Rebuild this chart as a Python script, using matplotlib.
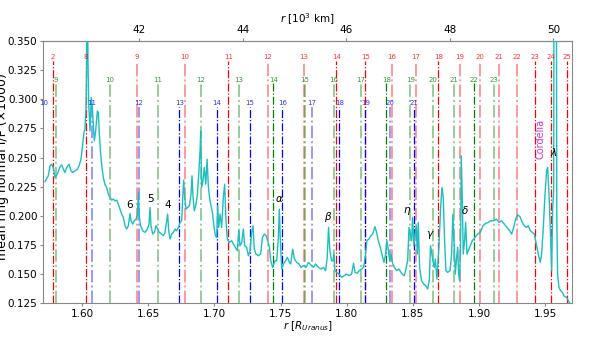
import numpy as np
import matplotlib.pyplot as plt

R_URANUS = 25559.0  # km

# Mean ring profile (r in Uranus radii, I/F)
r_prof = [1.5720, 1.5745, 1.5758, 1.5771, 1.5783, 1.5796, 1.5813, 1.5834, 1.5846, 1.5859,
          1.5871, 1.5884, 1.5902, 1.5917, 1.5929, 1.5947, 1.5965, 1.5980, 1.5992, 1.6005,
          1.6015, 1.6022, 1.6030, 1.6034, 1.6036, 1.6042, 1.6045, 1.6050, 1.6060, 1.6070,
          1.6078, 1.6085, 1.6093, 1.6103, 1.6116, 1.6123, 1.6131, 1.6141, 1.6151, 1.6161,
          1.6174, 1.6186, 1.6199, 1.6211, 1.6224, 1.6237, 1.6249, 1.6262, 1.6274, 1.6287,
          1.6300, 1.6312, 1.6325, 1.6337, 1.6350, 1.6363, 1.6370, 1.6383, 1.6395, 1.6408,
          1.6418, 1.6426, 1.6433, 1.6443, 1.6458, 1.6476, 1.6494, 1.6506, 1.6514, 1.6521,
          1.6534, 1.6547, 1.6559, 1.6572, 1.6584, 1.6602, 1.6615, 1.6627, 1.6640, 1.6647,
          1.6655, 1.6665, 1.6678, 1.6690, 1.6703, 1.6715, 1.6728, 1.6741, 1.6753, 1.6761,
          1.6768, 1.6776, 1.6786, 1.6798, 1.6811, 1.6824, 1.6831, 1.6839, 1.6849, 1.6861,
          1.6872, 1.6882, 1.6892, 1.6897, 1.6904, 1.6914, 1.6924, 1.6935, 1.6945, 1.6955,
          1.6967, 1.6980, 1.6987, 1.6998, 1.7008, 1.7018, 1.7025, 1.7033, 1.7043, 1.7055,
          1.7068, 1.7078, 1.7088, 1.7098, 1.7113, 1.7131, 1.7144, 1.7159, 1.7174, 1.7184,
          1.7194, 1.7207, 1.7219, 1.7229, 1.7244, 1.7257, 1.7270, 1.7282, 1.7292, 1.7302,
          1.7315, 1.7333, 1.7350, 1.7363, 1.7378, 1.7391, 1.7403, 1.7416, 1.7426, 1.7441,
          1.7459, 1.7471, 1.7484, 1.7491, 1.7499, 1.7509, 1.7522, 1.7539, 1.7552, 1.7567,
          1.7577, 1.7592, 1.7605, 1.7622, 1.7640, 1.7655, 1.7673, 1.7693, 1.7711,
          1.7734, 1.7748, 1.7765, 1.7785, 1.7806, 1.7823, 1.7841, 1.7853, 1.7863, 1.7873,
          1.7886, 1.7896, 1.7904, 1.7911, 1.7924, 1.7942, 1.7962, 1.7982, 1.8000, 1.8017,
          1.8037, 1.8052, 1.8063, 1.8078, 1.8095, 1.8113, 1.8128, 1.8143, 1.8153, 1.8168,
          1.8183, 1.8196, 1.8214, 1.8226, 1.8239, 1.8254, 1.8269, 1.8282, 1.8294, 1.8304,
          1.8314, 1.8325, 1.8335, 1.8345, 1.8360, 1.8377, 1.8395, 1.8410, 1.8420, 1.8435,
          1.8445, 1.8461, 1.8471, 1.8481, 1.8491, 1.8498, 1.8508, 1.8516, 1.8526, 1.8534,
          1.8541, 1.8551, 1.8566, 1.8581, 1.8597, 1.8612, 1.8624, 1.8634, 1.8642, 1.8652,
          1.8662, 1.8670, 1.8682, 1.8697, 1.8710, 1.8720, 1.8730, 1.8740, 1.8750, 1.8763,
          1.8781, 1.8793, 1.8803, 1.8811, 1.8821, 1.8831, 1.8839, 1.8846, 1.8854, 1.8861,
          1.8866, 1.8874, 1.8881, 1.8891, 1.8899, 1.8909, 1.8919, 1.8934, 1.8949, 1.8970,
          1.8990, 1.9010, 1.9030, 1.9050, 1.9070, 1.9090, 1.9111, 1.9131, 1.9151, 1.9171,
          1.9191, 1.9211, 1.9232, 1.9247, 1.9262, 1.9277, 1.9292, 1.9310, 1.9327, 1.9342,
          1.9357, 1.9373, 1.9388, 1.9403, 1.9418, 1.9433, 1.9448, 1.9463, 1.9473, 1.9486,
          1.9499, 1.9511, 1.9519, 1.9529, 1.9539, 1.9549, 1.9557, 1.9564, 1.9567, 1.9585,
          1.9588, 1.9594, 1.9604, 1.9617, 1.9630, 1.9640, 1.9650, 1.9662, 1.9675, 1.9690]
if_prof = [0.2295, 0.2344, 0.2429, 0.2443, 0.2415, 0.2329, 0.2358, 0.2421, 0.2438, 0.2401,
           0.2372, 0.2415, 0.2443, 0.2386, 0.2372, 0.2386, 0.2401, 0.2438, 0.2486, 0.2615,
           0.2715, 0.2743, 0.2929, 0.3214, 0.3700, 0.3700, 0.3329, 0.2986, 0.2729, 0.3015,
           0.2929, 0.2786, 0.2643, 0.2729, 0.2900, 0.2886, 0.2700, 0.2529, 0.2415, 0.2329,
           0.2266, 0.2244, 0.2186, 0.2158, 0.2135, 0.2144, 0.2129, 0.2135, 0.2101, 0.2058,
           0.2015, 0.1987, 0.1915, 0.1887, 0.1915, 0.2021, 0.1958, 0.1929, 0.1958, 0.1972,
           0.2015, 0.2201, 0.1987, 0.1915, 0.1872, 0.1858, 0.1887, 0.1929, 0.2072, 0.1915,
           0.1844, 0.1858, 0.1915, 0.1887, 0.1858, 0.1844, 0.1830, 0.1858, 0.1958, 0.2015,
           0.1872, 0.1801, 0.1844, 0.1858, 0.1887, 0.1872, 0.1901, 0.1944, 0.1958, 0.2158,
           0.2306, 0.2158, 0.2058, 0.2072, 0.2087, 0.2186, 0.2344, 0.2158, 0.2044, 0.2101,
           0.2186, 0.2358, 0.2558, 0.2729, 0.2244, 0.2301, 0.2415, 0.2272, 0.2486, 0.2244,
           0.2129, 0.2058, 0.2015, 0.1901, 0.1830, 0.1815, 0.2087, 0.1901, 0.2015, 0.1901,
           0.2158, 0.2272, 0.1958, 0.1801, 0.1772, 0.1787, 0.1758, 0.1730, 0.1701, 0.1872,
           0.1744, 0.1772, 0.1887, 0.1744, 0.1730, 0.1658, 0.1701, 0.1858, 0.1915, 0.1715,
           0.1672, 0.1658, 0.1672, 0.1815, 0.1844, 0.1830, 0.1787, 0.1730, 0.1615, 0.1558,
           0.1615, 0.1615, 0.1815, 0.2058, 0.1787, 0.1544, 0.1587, 0.1615, 0.1644, 0.1601,
           0.1587, 0.1715, 0.1630, 0.1601, 0.1587, 0.1558, 0.1573, 0.1558, 0.1601,
           0.1573, 0.1558, 0.1587, 0.1558, 0.1544, 0.1558, 0.1530, 0.1644, 0.1901, 0.1701,
           0.1615, 0.1615, 0.1672, 0.1530, 0.1515, 0.1501, 0.1473, 0.1487, 0.1501, 0.1487,
           0.1501, 0.1593, 0.1515, 0.1507, 0.1530, 0.1544, 0.1558, 0.1672, 0.1787, 0.1801,
           0.1830, 0.1844, 0.1907, 0.1858, 0.1787, 0.1730, 0.1658, 0.1601, 0.1672, 0.1787,
           0.1715, 0.1615, 0.1672, 0.1601, 0.1558, 0.1530, 0.1544, 0.1515, 0.1501, 0.1487,
           0.1530, 0.1615, 0.1901, 0.1844, 0.1787, 0.1987, 0.1744, 0.1844, 0.1915, 0.1672,
           0.1944, 0.1558, 0.1444, 0.1416, 0.1401, 0.1373, 0.1444, 0.1744, 0.1687, 0.1615,
           0.1558, 0.1630, 0.1458, 0.1730, 0.2072, 0.2244, 0.2158, 0.1787, 0.1530, 0.1515,
           0.1530, 0.1672, 0.2015, 0.1787, 0.1501, 0.1644, 0.1730, 0.1501, 0.1444, 0.1787,
           0.2515, 0.2129, 0.1672, 0.1787, 0.1944, 0.1672, 0.1701, 0.1744, 0.1787, 0.1815,
           0.1844, 0.1858, 0.1915, 0.1935, 0.1944, 0.1958, 0.1958, 0.1972, 0.1944, 0.1958,
           0.1929, 0.1901, 0.1872, 0.1844, 0.1901, 0.1972, 0.2009, 0.1992, 0.1944, 0.1915,
           0.1901, 0.1915, 0.1872, 0.1858, 0.1844, 0.1758, 0.1672, 0.1601, 0.1672, 0.1901,
           0.2186, 0.2386, 0.2415, 0.2186, 0.1901, 0.1530, 0.2072, 0.2200, 0.4000, 0.4000,
           0.2000, 0.1501, 0.1387, 0.1358, 0.1344, 0.1316, 0.1307, 0.1301, 0.1273, 0.1244]

# Resonance locations (r in Uranus radii) and their labels
red_res = [1.5782, 1.6027, 1.6415, 1.6776, 1.7105, 1.7405, 1.7677, 1.7921, 1.8141, 1.8340,
           1.8522, 1.8692, 1.8856, 1.9008, 1.9151, 1.9289, 1.9421, 1.9546, 1.9665]
red_lab = [2, 8, 9, 10, 11, 12, 13, 14, 15, 16, 17, 18, 19, 20, 21, 22, 23, 24, 25]
green_res = [1.5800, 1.6209, 1.6574, 1.6896, 1.7186, 1.7445, 1.7683, 1.7902, 1.8106, 1.8299,
             1.8481, 1.8650, 1.8809, 1.8964, 1.9113]
green_lab = list(range(9, 24))
blue_res = [1.5708, 1.6073, 1.6428, 1.6735, 1.7017, 1.7269, 1.7513, 1.7738, 1.7944, 1.8141,
            1.8325, 1.8509]
blue_lab = list(range(10, 22))

# faint (doubled) resonance lines
red_faint = {9, 10, 12, 13, 16, 17, 19, 20, 21, 22}
green_faint = {9, 10, 11, 12, 13, 15, 16, 17, 19, 20, 21, 23}
blue_faint = {10, 11, 12, 17, 20}

ring_names = ['6', '5', '4', r'$\alpha$', r'$\beta$', r'$\eta$', r'$\gamma$', r'$\delta$', r'$\lambda$']
ring_r = [1.6362, 1.6518, 1.6647, 1.7491, 1.7861, 1.8454, 1.8630, 1.8892, 1.9567]
ring_y = [0.2091, 0.2142, 0.2091, 0.2142, 0.1991, 0.2040, 0.1835, 0.2048, 0.2546]

cordelia_r = 49751.0 / R_URANUS

fig = plt.figure(figsize=(5.98, 3.42), dpi=100)
ax = fig.add_axes([0.0719, 0.1132, 0.8851, 0.7668])

ax.plot(r_prof, if_prof, color='#1bbfbf', lw=1.0, zorder=3)


def draw_res(xs, labs, faint, color, ytop, ylab):
    for x, n in zip(xs, labs):
        if n in faint:
            ax.vlines(x, 0.125, ytop, colors=color, linestyles='-.', lw=1.4, alpha=0.4, zorder=2)
        else:
            ax.vlines(x, 0.125, ytop, colors=color, linestyles='-.', lw=0.9, zorder=2)
        ax.text(x, ylab, str(n), color=color, fontsize=5, ha='center', va='center', alpha=0.8)


draw_res(red_res, red_lab, red_faint, 'r', 0.3330, 0.3364)
draw_res(green_res, green_lab, green_faint, 'g', 0.3140, 0.3165)
draw_res(blue_res, blue_lab, blue_faint, 'b', 0.2930, 0.2966)

for name, x, y in zip(ring_names, ring_r, ring_y):
    ax.text(x, y, name, fontsize=7.5, ha='center', va='center')

ax.text(cordelia_r, 0.2663, 'Cordelia', color='m', fontsize=7, rotation=90,
        ha='center', va='center', alpha=0.8)

ax.set_xlim(1.5705, 1.9705)
ax.set_ylim(0.125, 0.350)
ax.set_yticks(np.arange(0.125, 0.351, 0.025))
ax.set_yticklabels(['%.3f' % v for v in np.arange(0.125, 0.351, 0.025)])
ax.set_xticks(np.arange(1.60, 1.951, 0.05))
ax.set_xticklabels(['%.2f' % v for v in np.arange(1.60, 1.951, 0.05)])
ax.tick_params(labelsize=7.5, color='#888888', length=2.5, pad=1.5)
for s in ax.spines.values():
    s.set_color('#888888')

ax.set_xlabel(r'$r$ [$R_{Uranus}$]', fontsize=7.5, labelpad=0)
ax.set_ylabel('mean ring normal I/F (×1000)', fontsize=9)
ax.yaxis.set_label_coords(-0.064, 0.52)

top = ax.secondary_xaxis('top', functions=(lambda r: r * R_URANUS / 1000.0,
                                           lambda k: k * 1000.0 / R_URANUS))
top.set_xticks([42, 44, 46, 48, 50])
top.tick_params(labelsize=7.5, color='#888888', length=2.5, pad=1.5)
top.spines['top'].set_color('#888888')
top.set_xlabel(r'$r$ [10$^3$ km]', fontsize=7.5, labelpad=1.5)

fig.savefig('out.png', dpi=100)
